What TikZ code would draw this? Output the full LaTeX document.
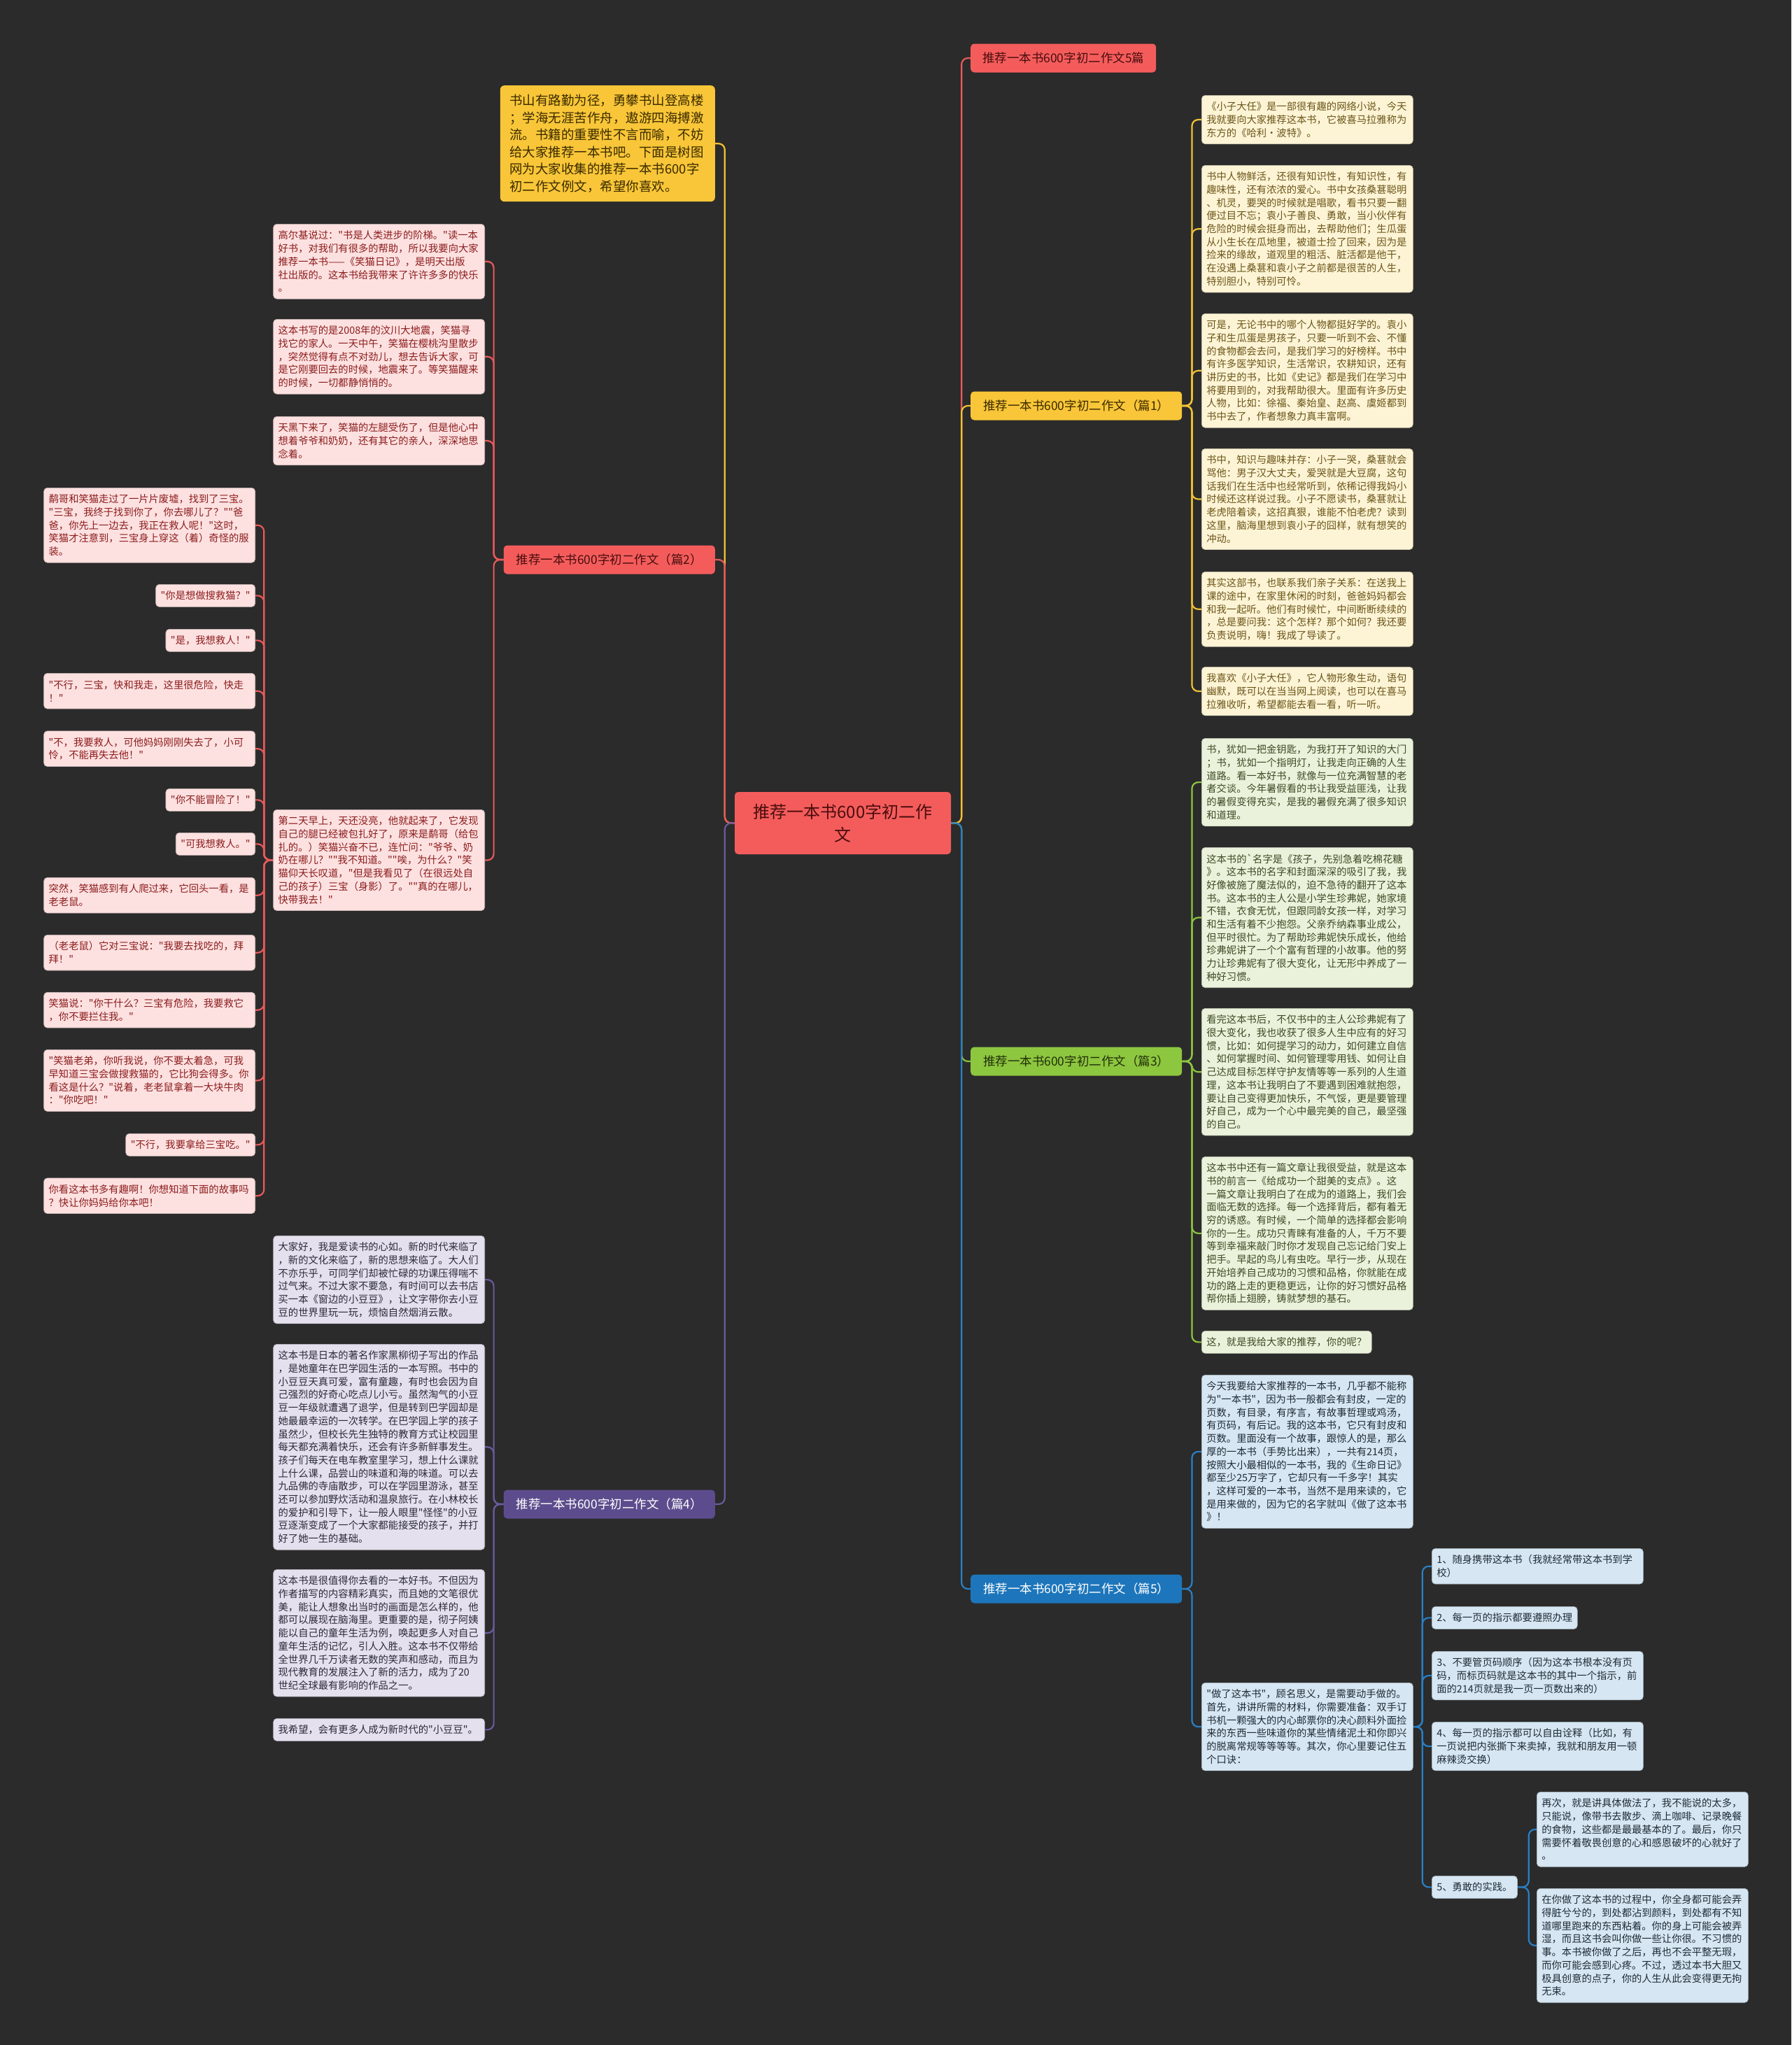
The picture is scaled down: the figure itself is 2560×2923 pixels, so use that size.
\documentclass[tikz,border=0pt]{standalone}
\usepackage{fontspec}
\setmainfont{Noto Sans CJK SC}[Ligatures=TeXOff]
\pgfdeclarelayer{back}
\pgfdeclarelayer{lines}
\pgfsetlayers{back,lines,main}
\definecolor{bgc}{HTML}{2B2B2B}
\definecolor{lnR}{HTML}{E8595A}
\definecolor{lnY}{HTML}{F1C232}
\definecolor{lnG}{HTML}{8CC63F}
\definecolor{lnB}{HTML}{2A7FC4}
\definecolor{lnP}{HTML}{6A5A9C}
\definecolor{fR}{HTML}{F45C5C}
\definecolor{fY}{HTML}{F8C638}
\definecolor{fG}{HTML}{8DC63F}
\definecolor{fB}{HTML}{1D76BB}
\definecolor{fP}{HTML}{5D4C8D}
\definecolor{tRd}{HTML}{4A0D0D}
\definecolor{tYd}{HTML}{3B2A00}
\definecolor{tGd}{HTML}{22300A}
\definecolor{kRf}{HTML}{FDE1E1}
\definecolor{kRt}{HTML}{8C1C1C}
\definecolor{kYf}{HTML}{FDF4D6}
\definecolor{kYt}{HTML}{6B5518}
\definecolor{kGf}{HTML}{EAF2DB}
\definecolor{kGt}{HTML}{3E4A25}
\definecolor{kPf}{HTML}{E4E0EE}
\definecolor{kPt}{HTML}{2C2A3A}
\definecolor{kBf}{HTML}{D6E7F3}
\definecolor{kBt}{HTML}{1F2B36}
\begin{document}
\begin{tikzpicture}[x=1pt,y=-1pt,
 kid/.style={rounded corners=5pt,font=\fontsize{14.3}{18.7}\selectfont,align=left,inner xsep=7pt,inner ysep=2pt,line width=0.7pt},
 wide/.style={text width=288pt},
 nl/.style={minimum height={(18.7*#1+13.3)*1pt}},
 kR/.style={kid,fill=kRf,draw=kRf!80!black,text=kRt},
 kY/.style={kid,fill=kYf,draw=kYf!80!black,text=kYt},
 kG/.style={kid,fill=kGf,draw=kGf!80!black,text=kGt},
 kP/.style={kid,fill=kPf,draw=kPf!80!black,text=kPt},
 kB/.style={kid,fill=kBf,draw=kBf!80!black,text=kBt},
 br/.style={rounded corners=5pt,minimum height=41pt,minimum width=302pt,inner xsep=10pt,font=\fontsize{17.5}{20}\selectfont},
 ln/.style={line width=2.2pt,rounded corners=9pt},
 rw/.style={anchor=north west},
 le/.style={anchor=north east}
]
\begin{pgfonlayer}{back}
\fill[bgc] (0,0) rectangle (2560,2923);
\end{pgfonlayer}
\useasboundingbox (0,0) rectangle (2560,2923);

% root and branches
\node[fill=fR,text=tRd,rounded corners=5pt,minimum width=309pt,minimum height=89pt,align=center,font=\fontsize{24}{33}\selectfont] (root) at (1204.5,1176.5) {推荐一本书600字初二作\\文};
\node[br,fill=fR,text=tRd,minimum width=265pt,anchor=west] (b0) at (1387,83) {推荐一本书600字初二作文5篇};
\node[br,fill=fY,text=tYd,anchor=west] (b1) at (1387,580) {推荐一本书600字初二作文（篇1）};
\node[br,fill=fG,text=tGd,anchor=west] (b3) at (1387,1517) {推荐一本书600字初二作文（篇3）};
\node[br,fill=fB,text=white,anchor=west] (b5) at (1387,2271) {推荐一本书600字初二作文（篇5）};
\node[br,fill=fR,text=tRd,anchor=east] (b2) at (1022,800) {推荐一本书600字初二作文（篇2）};
\node[br,fill=fP,text=white,anchor=east] (b4) at (1022,2150) {推荐一本书600字初二作文（篇4）};
\node[fill=fY,text=tYd,rounded corners=6pt,anchor=north east,text width=280pt,inner xsep=13.5pt,minimum height=166pt,align=left,font=\fontsize{18.5}{24.6}\selectfont] (intro) at (1022,122) {书山有路勤为径，勇攀书山登高楼\\；学海无涯苦作舟，遨游四海搏激\\流。书籍的重要性不言而喻，不妨\\给大家推荐一本书吧。下面是树图\\网为大家收集的推荐一本书600字\\初二作文例文，希望你喜欢。};

% pian 1
\node[kY,wide,nl=3,rw] (y1) at (1717,136) {《小子大任》是一部很有趣的网络小说，今天\\我就要向大家推荐这本书，它被喜马拉雅称为\\东方的《哈利·波特》。};
\node[kY,wide,nl=9,rw] (y2) at (1717,236) {书中人物鲜活，还很有知识性，有知识性，有\\趣味性，还有浓浓的爱心。书中女孩桑葚聪明\\、机灵，要哭的时候就是唱歌，看书只要一翻\\便过目不忘；袁小子善良、勇敢，当小伙伴有\\危险的时候会挺身而出，去帮助他们；生瓜蛋\\从小生长在瓜地里，被道士捡了回来，因为是\\捡来的缘故，道观里的粗活、脏活都是他干，\\在没遇上桑葚和袁小子之前都是很苦的人生，\\特别胆小，特别可怜。};
\node[kY,wide,nl=8,rw] (y3) at (1717,448) {可是，无论书中的哪个人物都挺好学的。袁小\\子和生瓜蛋是男孩子，只要一听到不会、不懂\\的食物都会去问，是我们学习的好榜样。书中\\有许多医学知识，生活常识，农耕知识，还有\\讲历史的书，比如《史记》都是我们在学习中\\将要用到的，对我帮助很大。里面有许多历史\\人物，比如：徐福、秦始皇、赵高、虞姬都到\\书中去了，作者想象力真丰富啊。};
\node[kY,wide,nl=7,rw] (y4) at (1717,641) {书中，知识与趣味并存：小子一哭，桑葚就会\\骂他：男子汉大丈夫，爱哭就是大豆腐，这句\\话我们在生活中也经常听到，依稀记得我妈小\\时候还这样说过我。小子不愿读书，桑葚就让\\老虎陪着读，这招真狠，谁能不怕老虎？读到\\这里，脑海里想到袁小子的囧样，就有想笑的\\冲动。};
\node[kY,wide,nl=5,rw] (y5) at (1717,817) {其实这部书，也联系我们亲子关系：在送我上\\课的途中，在家里休闲的时刻，爸爸妈妈都会\\和我一起听。他们有时候忙，中间断断续续的\\，总是要问我：这个怎样？那个如何？我还要\\负责说明，嗨！我成了导读了。};
\node[kY,wide,nl=3,rw] (y6) at (1717,953) {我喜欢《小子大任》，它人物形象生动，语句\\幽默，既可以在当当网上阅读，也可以在喜马\\拉雅收听，希望都能去看一看，听一听。};

% pian 3
\node[kG,wide,nl=6,rw] (g1) at (1717,1055) {书，犹如一把金钥匙，为我打开了知识的大门\\；书，犹如一个指明灯，让我走向正确的人生\\道路。看一本好书，就像与一位充满智慧的老\\者交谈。今年暑假看的书让我受益匪浅，让我\\的暑假变得充实，是我的暑假充满了很多知识\\和道理。};
\node[kG,wide,nl=10,rw] (g2) at (1717,1211) {这本书的`名字是《孩子，先别急着吃棉花糖\\》。这本书的名字和封面深深的吸引了我，我\\好像被施了魔法似的，迫不急待的翻开了这本\\书。这本书的主人公是小学生珍弗妮，她家境\\不错，衣食无忧，但跟同龄女孩一样，对学习\\和生活有着不少抱怨。父亲乔纳森事业成公，\\但平时很忙。为了帮助珍弗妮快乐成长，他给\\珍弗妮讲了一个个富有哲理的小故事。他的努\\力让珍弗妮有了很大变化，让无形中养成了一\\种好习惯。};
\node[kG,wide,nl=9,rw] (g3) at (1717,1441) {看完这本书后，不仅书中的主人公珍弗妮有了\\很大变化，我也收获了很多人生中应有的好习\\惯，比如：如何提学习的动力，如何建立自信\\、如何掌握时间、如何管理零用钱、如何让自\\己达成目标怎样守护友情等等一系列的人生道\\理，这本书让我明白了不要遇到困难就抱怨，\\要让自己变得更加快乐，不气馁，更是要管理\\好自己，成为一个心中最完美的自己，最坚强\\的自己。};
\node[kG,wide,nl=11,rw] (g4) at (1717,1653) {这本书中还有一篇文章让我很受益，就是这本\\书的前言一《给成功一个甜美的支点》。这\\一篇文章让我明白了在成为的道路上，我们会\\面临无数的选择。每一个选择背后，都有着无\\穷的诱惑。有时候，一个简单的选择都会影响\\你的一生。成功只青睐有准备的人，千万不要\\等到幸福来敲门时你才发现自己忘记给门安上\\把手。早起的鸟儿有虫吃。早行一步，从现在\\开始培养自己成功的习惯和品格，你就能在成\\功的路上走的更稳更远，让你的好习惯好品格\\帮你插上翅膀，铸就梦想的基石。};
\node[kG,nl=1,rw] (g5) at (1717,1902) {这，就是我给大家的推荐，你的呢？};

% pian 5
\node[kB,wide,nl=11,rw] (u1) at (1717,1965) {今天我要给大家推荐的一本书，几乎都不能称\\为"一本书"，因为书一般都会有封皮，一定的\\页数，有目录，有序言，有故事哲理或鸡汤，\\有页码，有后记。我的这本书，它只有封皮和\\页数。里面没有一个故事，跟惊人的是，那么\\厚的一本书（手势比出来），一共有214页，\\按照大小最相似的一本书，我的《生命日记》\\都至少25万字了，它却只有一千多字！其实\\，这样可爱的一本书，当然不是用来读的，它\\是用来做的，因为它的名字就叫《做了这本书\\》！};
\node[kB,wide,nl=6,rw] (u2) at (1717,2405) {"做了这本书"，顾名思义，是需要动手做的。\\首先，讲讲所需的材料，你需要准备：双手订\\书机一颗强大的内心邮票你的决心颜料外面捡\\来的东西一些味道你的某些情绪泥土和你即兴\\的脱离常规等等等等。其次，你心里要记住五\\个口诀：};
\node[kB,wide,nl=2,rw] (k1) at (2046,2213) {1、随身携带这本书（我就经常带这本书到学\\校）};
\node[kB,nl=1,rw] (k2) at (2046,2296) {2、每一页的指示都要遵照办理};
\node[kB,wide,nl=3,rw] (k3) at (2046,2360) {3、不要管页码顺序（因为这本书根本没有页\\码，而标页码就是这本书的其中一个指示，前\\面的214页就是我一页一页数出来的）};
\node[kB,wide,nl=3,rw] (k4) at (2046,2461) {4、每一页的指示都可以自由诠释（比如，有\\一页说把内张撕下来卖掉，我就和朋友用一顿\\麻辣烫交换）};
\node[kB,nl=1,rw] (k5) at (2046,2681) {5、勇敢的实践。};
\node[kB,wide,nl=5,rw] (m1) at (2196,2561) {再次，就是讲具体做法了，我不能说的太多，\\只能说，像带书去散步、滴上咖啡、记录晚餐\\的食物，这些都是最最基本的了。最后，你只\\需要怀着敬畏创意的心和感恩破坏的心就好了\\。};
\node[kB,wide,nl=8,rw] (m2) at (2196,2699) {在你做了这本书的过程中，你全身都可能会弄\\得脏兮兮的，到处都沾到颜料，到处都有不知\\道哪里跑来的东西粘着。你的身上可能会被弄\\湿，而且这书会叫你做一些让你很。不习惯的\\事。本书被你做了之后，再也不会平整无瑕，\\而你可能会感到心疼。不过，透过本书大胆又\\极具创意的点子，你的人生从此会变得更无拘\\无束。};

% pian 2
\node[kR,wide,nl=5,le] (a1) at (693,320) {高尔基说过："书是人类进步的阶梯。"读一本\\好书，对我们有很多的帮助，所以我要向大家\\推荐一本书——《笑猫日记》，是明天出版\\社出版的。这本书给我带来了许许多多的快乐\\。};
\node[kR,wide,nl=5,le] (a2) at (693,456) {这本书写的是2008年的汶川大地震，笑猫寻\\找它的家人。一天中午，笑猫在樱桃沟里散步\\，突然觉得有点不对劲儿，想去告诉大家，可\\是它刚要回去的时候，地震来了。等笑猫醒来\\的时候，一切都静悄悄的。};
\node[kR,wide,nl=3,le] (a3) at (693,595) {天黑下来了，笑猫的左腿受伤了，但是他心中\\想着爷爷和奶奶，还有其它的亲人，深深地思\\念着。};
\node[kR,wide,nl=7,le] (a4) at (693,1157) {第二天早上，天还没亮，他就起来了，它发现\\自己的腿已经被包扎好了，原来是鹬哥（给包\\扎的。）笑猫兴奋不已，连忙问："爷爷、奶\\奶在哪儿？""我不知道。""唉，为什么？"笑\\猫仰天长叹道，"但是我看见了（在很远处自\\己的孩子）三宝（身影）了。""真的在哪儿，\\快带我去！"};
\node[kR,wide,nl=5,le] (c1) at (365,697) {鹬哥和笑猫走过了一片片废墟，找到了三宝。\\"三宝，我终于找到你了，你去哪儿了？""爸\\爸，你先上一边去，我正在救人呢！"这时，\\笑猫才注意到，三宝身上穿这（着）奇怪的服\\装。};
\node[kR,nl=1,le] (c2) at (365,835) {"你是想做搜救猫？"};
\node[kR,nl=1,le] (c3) at (365,899) {"是，我想救人！"};
\node[kR,wide,nl=2,le] (c4) at (365,962) {"不行，三宝，快和我走，这里很危险，快走\\！"};
\node[kR,wide,nl=2,le] (c5) at (365,1044.5) {"不，我要救人，可他妈妈刚刚失去了，小可\\怜，不能再失去他！"};
\node[kR,nl=1,le] (c6) at (365,1127) {"你不能冒险了！"};
\node[kR,nl=1,le] (c7) at (365,1190) {"可我想救人。"};
\node[kR,wide,nl=2,le] (c8) at (365,1254) {突然，笑猫感到有人爬过来，它回头一看，是\\老老鼠。};
\node[kR,wide,nl=2,le] (c9) at (365,1336) {（老老鼠）它对三宝说："我要去找吃的，拜\\拜！"};
\node[kR,wide,nl=2,le] (c10) at (365,1418) {笑猫说："你干什么？三宝有危险，我要救它\\，你不要拦住我。"};
\node[kR,wide,nl=4,le] (c11) at (365,1500) {"笑猫老弟，你听我说，你不要太着急，可我\\早知道三宝会做搜救猫的，它比狗会得多。你\\看这是什么？"说着，老老鼠拿着一大块牛肉\\："你吃吧！"};
\node[kR,nl=1,le] (c12) at (365,1620) {"不行，我要拿给三宝吃。"};
\node[kR,wide,nl=2,le] (c13) at (365,1683.5) {你看这本书多有趣啊！你想知道下面的故事吗\\？快让你妈妈给你本吧！};

% pian 4
\node[kP,wide,nl=6,le] (p1) at (693,1766) {大家好，我是爱读书的心如。新的时代来临了\\，新的文化来临了，新的思想来临了。大人们\\不亦乐乎，可同学们却被忙碌的功课压得喘不\\过气来。不过大家不要急，有时间可以去书店\\买一本《窗边的小豆豆》，让文字带你去小豆\\豆的世界里玩一玩，烦恼自然烟消云散。};
\node[kP,wide,nl=15,le] (p2) at (693,1921) {这本书是日本的著名作家黑柳彻子写出的作品\\，是她童年在巴学园生活的一本写照。书中的\\小豆豆天真可爱，富有童趣，有时也会因为自\\己强烈的好奇心吃点儿小亏。虽然淘气的小豆\\豆一年级就遭遇了退学，但是转到巴学园却是\\她最最幸运的一次转学。在巴学园上学的孩子\\虽然少，但校长先生独特的教育方式让校园里\\每天都充满着快乐，还会有许多新鲜事发生。\\孩子们每天在电车教室里学习，想上什么课就\\上什么课，品尝山的味道和海的味道。可以去\\九品佛的寺庙散步，可以在学园里游泳，甚至\\还可以参加野炊活动和温泉旅行。在小林校长\\的爱护和引导下，让一般人眼里"怪怪"的小豆\\豆逐渐变成了一个大家都能接受的孩子，并打\\好了她一生的基础。};
\node[kP,wide,nl=9,le] (p3) at (693,2243) {这本书是很值得你去看的一本好书。不但因为\\作者描写的内容精彩真实，而且她的文笔很优\\美，能让人想象出当时的画面是怎么样的，他\\都可以展现在脑海里。更重要的是，彻子阿姨\\能以自己的童年生活为例，唤起更多人对自己\\童年生活的记忆，引人入胜。这本书不仅带给\\全世界几千万读者无数的笑声和感动，而且为\\现代教育的发展注入了新的活力，成为了20\\世纪全球最有影响的作品之一。};
\node[kP,wide,nl=1,le] (p4) at (693,2456) {我希望，会有更多人成为新时代的"小豆豆"。};

% connectors
\begin{pgfonlayer}{lines}
\draw[ln,lnR] (root.east) -- ++(15,0) |- (b0.west);
\draw[ln,lnY] (root.east) -- ++(15,0) |- (b1.west);
\draw[ln,lnG] (root.east) -- ++(15,0) |- (b3.west);
\draw[ln,lnB] (root.east) -- ++(15,0) |- (b5.west);
\draw[ln,lnY] (root.west) -- ++(-14,0) |- (intro.east);
\draw[ln,lnR] (root.west) -- ++(-14,0) |- (b2.east);
\draw[ln,lnP] (root.west) -- ++(-14,0) |- (b4.east);
\foreach \n in {y1,y2,y3,y4,y5,y6} \draw[ln,lnY] (b1.east) -- ++(14,0) |- (\n.west);
\foreach \n in {g1,g2,g3,g4,g5} \draw[ln,lnG] (b3.east) -- ++(14,0) |- (\n.west);
\foreach \n in {u1,u2} \draw[ln,lnB] (b5.east) -- ++(14,0) |- (\n.west);
\foreach \n in {k1,k2,k3,k4,k5} \draw[ln,lnB] (u2.east) -- ++(13,0) |- (\n.west);
\foreach \n in {m1,m2} \draw[ln,lnB] (k5.east) -- ++(16,0) |- (\n.west);
\foreach \n in {a1,a2,a3,a4} \draw[ln,lnR] (b2.west) -- ++(-14,0) |- (\n.east);
\foreach \n in {c1,c2,c3,c4,c5,c6,c7,c8,c9,c10,c11,c12,c13} \draw[ln,lnR] (a4.west) -- ++(-13,0) |- (\n.east);
\foreach \n in {p1,p2,p3,p4} \draw[ln,lnP] (b4.west) -- ++(-14,0) |- (\n.east);
\end{pgfonlayer}
\end{tikzpicture}
\end{document}
